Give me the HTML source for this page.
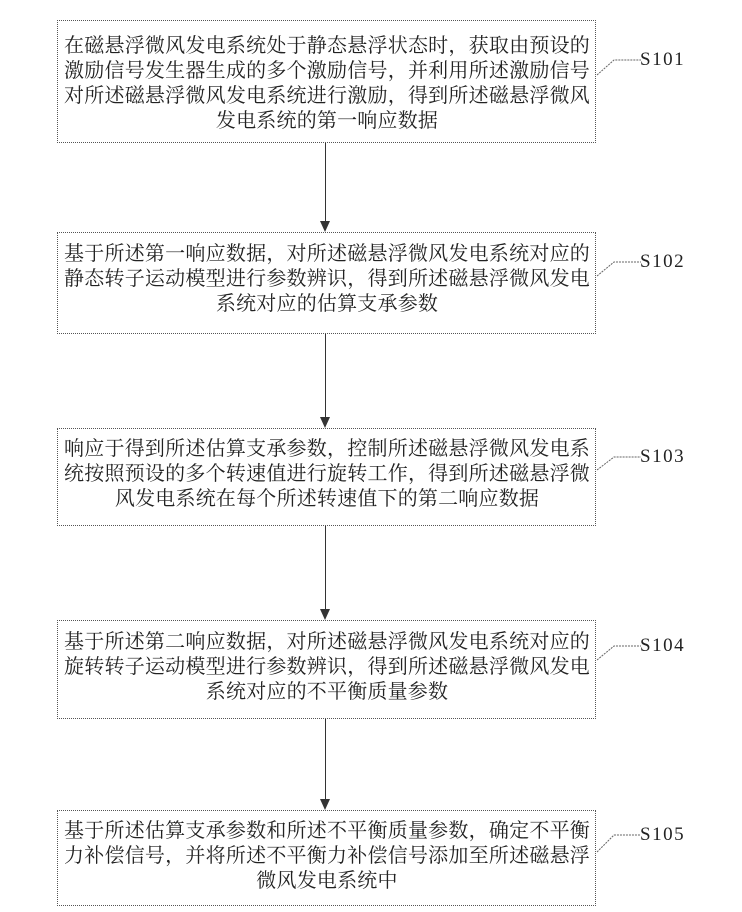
<!DOCTYPE html>
<html><head><meta charset="utf-8"><style>
body{margin:0;width:742px;height:912px;background:#fff;position:relative;overflow:hidden;font-family:"Liberation Serif","Noto Serif CJK SC",serif;color:#222}
.b{position:absolute;left:57px;width:539px;border:1px dotted #555;box-sizing:border-box}
.t{position:absolute;left:6px;width:526px;font-size:20px;line-height:25px;text-align:justify;text-align-last:center;word-break:break-all;letter-spacing:0.2px}
.l{position:absolute;left:640px;font-size:19px;letter-spacing:1.5px}
.a{position:absolute;left:325px;width:1px;background:#333}
.h{position:absolute;left:320px;width:0;height:0;border-left:5px solid transparent;border-right:5px solid transparent;border-top:11px solid #333}
svg{position:absolute;left:0;top:0}
</style></head><body>
<div class="b" style="top:20px;height:123px"><div class="t" style="top:13px">在磁悬浮微风发电系统处于静态悬浮状态时，获取由预设的激励信号发生器生成的多个激励信号，并利用所述激励信号对所述磁悬浮微风发电系统进行激励，得到所述磁悬浮微风发电系统的第一响应数据</div></div>
<div class="b" style="top:232px;height:102px"><div class="t" style="top:9px">基于所述第一响应数据，对所述磁悬浮微风发电系统对应的静态转子运动模型进行参数辨识，得到所述磁悬浮微风发电系统对应的估算支承参数</div></div>
<div class="b" style="top:428px;height:98px"><div class="t" style="top:8px">响应于得到所述估算支承参数，控制所述磁悬浮微风发电系统按照预设的多个转速值进行旋转工作，得到所述磁悬浮微风发电系统在每个所述转速值下的第二响应数据</div></div>
<div class="b" style="top:620px;height:99px"><div class="t" style="top:9px">基于所述第二响应数据，对所述磁悬浮微风发电系统对应的旋转转子运动模型进行参数辨识，得到所述磁悬浮微风发电系统对应的不平衡质量参数</div></div>
<div class="b" style="top:810px;height:96px"><div class="t" style="top:8px">基于所述估算支承参数和所述不平衡质量参数，确定不平衡力补偿信号，并将所述不平衡力补偿信号添加至所述磁悬浮微风发电系统中</div></div>

<div class="a" style="top:143px;height:79px"></div><div class="h" style="top:221px"></div>
<div class="a" style="top:334px;height:84px"></div><div class="h" style="top:417px"></div>
<div class="a" style="top:526px;height:84px"></div><div class="h" style="top:609px"></div>
<div class="a" style="top:719px;height:81px"></div><div class="h" style="top:799px"></div>

<svg width="742" height="912"><g stroke="#666" stroke-width="1" fill="none" stroke-dasharray="2,1">
<path d="M597 75 L614 60 L641 60"/>
<path d="M597 276 L614 262 L641 262"/>
<path d="M597 470 L614 457 L641 457"/>
<path d="M597 660 L614 646 L641 646"/>
<path d="M597 852 L614 835 L641 835"/>
</g></svg>
<div class="l" style="top:49px">S101</div>
<div class="l" style="top:251px">S102</div>
<div class="l" style="top:446px">S103</div>
<div class="l" style="top:635px">S104</div>
<div class="l" style="top:824px">S105</div>
</body></html>
